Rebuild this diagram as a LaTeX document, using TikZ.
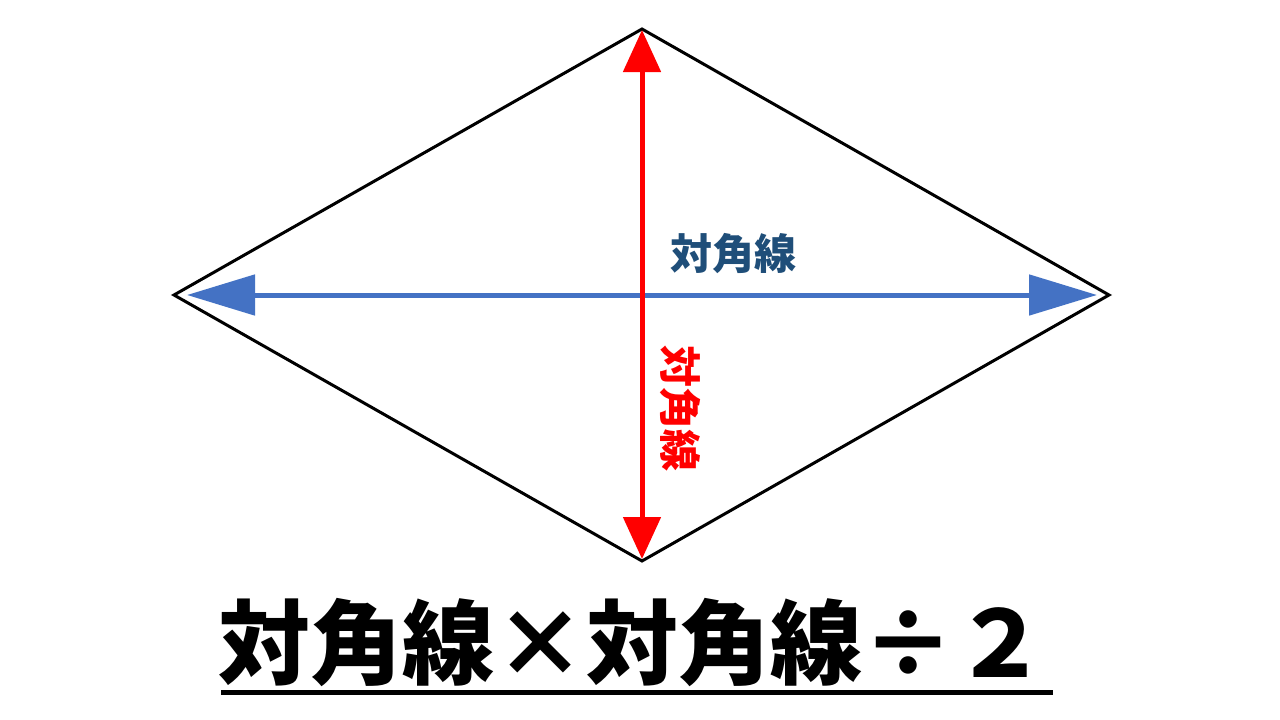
\documentclass[tikz,border=0pt]{standalone}
\usepackage{fontspec}
\usetikzlibrary{arrows.meta}
\newfontfamily\jpfont{Noto Sans CJK JP}[BoldFont={Noto Sans CJK JP Black}]
\definecolor{arrblue}{HTML}{4472C4}
\definecolor{txtblue}{HTML}{1F4E79}
\definecolor{arrred}{HTML}{FF0000}
\tikzset{
  shapeline/.style={draw=black, line width=3pt, line join=miter},
  bluearrow/.style={draw=arrblue, line width=5pt, {Triangle[length=68pt,width=40pt]}-{Triangle[length=68pt,width=40pt]}},
  redarrow/.style={draw=arrred, line width=5pt, {Triangle[length=42pt,width=37pt]}-{Triangle[length=42pt,width=37pt]}},
  labeltext/.style={font=\jpfont\bfseries\fontsize{42}{48}\selectfont, inner sep=0pt},
  bigtext/.style={font=\jpfont\bfseries\fontsize{92}{104}\selectfont, inner sep=0pt}
}
\begin{document}
\begin{tikzpicture}[x=1pt,y=-1pt]
\useasboundingbox[fill=white] (0,0) rectangle (1280,720);
\coordinate (T) at (642,29);
\coordinate (R) at (1109,295);
\coordinate (B) at (642,561);
\coordinate (L) at (174,295);
\draw[shapeline] (T) -- (R) -- (B) -- (L) -- cycle;
\draw[bluearrow, shorten <=13pt, shorten >=12pt] (L) -- (R);
\draw[redarrow, shorten <=1pt, shorten >=2pt] (T) -- (B);
\node[labeltext, text=txtblue] (hl) at (733,254) {対角線};
\node[labeltext, text=arrred, rotate=-90] (vl) at (680,408) {対角線};
\node[bigtext] (formula) at (632,643) {対角線×対角線÷２};
\coordinate (ul1) at (221,692);
\coordinate (ul2) at (1053,692);
\draw[line width=5pt] (ul1) -- (ul2);
\end{tikzpicture}
\end{document}
